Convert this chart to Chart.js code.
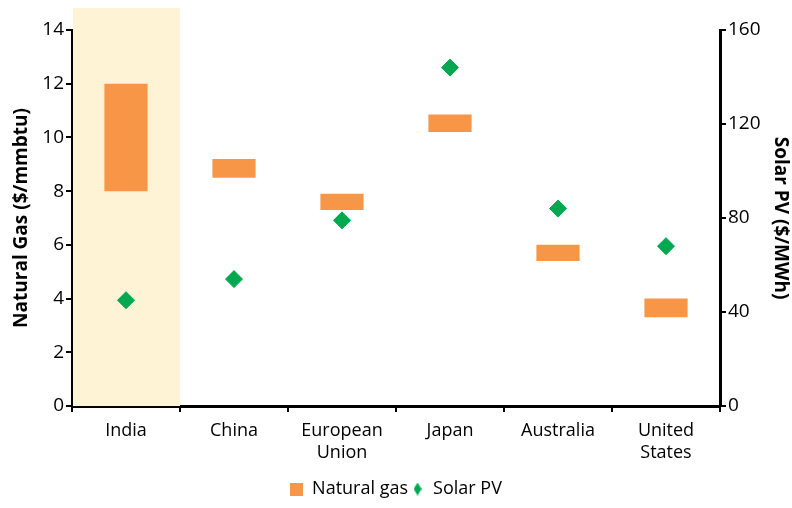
<!DOCTYPE html>
<html>
  <script src="https://cdn.jsdelivr.net/npm/chart.js"></script>
  <body style="margin:0">
    <div style="width:792px;height:508px">
      <canvas id="myChart"></canvas>
    </div>

    <script>
      // categories and values
      const countries = [["India"], ["China"], ["European", "Union"], ["Japan"], ["Australia"], ["United", "States"]];
      const gasLow = [8, 8.5, 7.3, 10.2, 5.4, 3.3];
      const gasHigh = [12, 9.2, 7.9, 10.85, 6.0, 4.0];
      const solarPV = [45, 54, 79, 144, 84, 68];

      const orange = "#F79646";
      const green = "#00A84F";
      const font = "'Open Sans', 'Liberation Sans', sans-serif";

      // small legend markers: square and narrow diamond
      function marker(w, h, draw) {
        const c = document.createElement("canvas");
        c.width = w;
        c.height = h;
        draw(c.getContext("2d"), w, h);
        return c;
      }
      const gasMarker = marker(13, 13, (g, w, h) => {
        g.fillStyle = orange;
        g.fillRect(0, 0, w, h);
      });
      const pvMarker = marker(8, 13, (g, w, h) => {
        g.fillStyle = green;
        g.beginPath();
        g.moveTo(w / 2, 0);
        g.lineTo(w, h / 2);
        g.lineTo(w / 2, h);
        g.lineTo(0, h / 2);
        g.closePath();
        g.fill();
      });

      // pale band behind the India column
      const bandPlugin = {
        id: "band",
        beforeDatasetsDraw(chart) {
          const x = chart.scales.x;
          const area = chart.chartArea;
          const right = (x.getPixelForValue(0) + x.getPixelForValue(1)) / 2;
          const c = chart.ctx;
          c.save();
          c.fillStyle = "#FEF3D5";
          c.fillRect(area.left + 1, 8, right - area.left - 1, area.bottom - 8);
          c.restore();
        }
      };

      const ctx = document.getElementById("myChart");
      new Chart(ctx, {
        type: "bar",
        data: {
          labels: countries,
          datasets: [
            {
              label: "Natural gas",
              data: gasLow.map((v, i) => [v, gasHigh[i]]),
              backgroundColor: orange,
              borderWidth: 0,
              barPercentage: 0.4,
              categoryPercentage: 1,
              yAxisID: "y"
            },
            {
              type: "line",
              label: "Solar PV",
              data: solarPV,
              showLine: false,
              pointStyle: "rectRot",
              pointRadius: 8.5,
              pointBackgroundColor: green,
              pointBorderColor: green,
              backgroundColor: green,
              borderColor: green,
              yAxisID: "y1"
            }
          ]
        },
        options: {
          responsive: true,
          maintainAspectRatio: false,
          animation: false,
          layout: { padding: { top: 30, left: 0, right: 0, bottom: 0 } },
          plugins: {
            tooltip: { enabled: false },
            legend: {
              position: "bottom",
              labels: {
                usePointStyle: true,
                boxWidth: 13,
                boxHeight: 13,
                color: "#000",
                font: { family: font, size: 18 },
                padding: 3,
                generateLabels(chart) {
                  return Chart.defaults.plugins.legend.labels.generateLabels(chart).map(l => {
                    l.pointStyle = l.datasetIndex === 0 ? gasMarker : pvMarker;
                    return l;
                  });
                }
              }
            }
          },
          scales: {
            x: {
              afterFit(s) { s.height = 71; },
              grid: { drawOnChartArea: false, color: "#000", lineWidth: 2, tickLength: 6 },
              border: { color: "#000", width: 3 },
              ticks: { color: "#000", font: { family: font, size: 18, lineHeight: 1.2 }, padding: 8, maxRotation: 0 }
            },
            y: {
              position: "left",
              min: 0,
              max: 14,
              afterFit(s) { s.width = 72; },
              ticks: { stepSize: 2, color: "#000", font: { family: font, size: 19 }, padding: 2 },
              grid: { drawOnChartArea: false, color: "#000", lineWidth: 2, tickLength: 6 },
              border: { color: "#000", width: 3 },
              title: { display: true, text: "Natural Gas ($/mmbtu)", color: "#000", font: { family: font, size: 19, weight: "bold" }, padding: { top: 10, bottom: 2 } }
            },
            y1: {
              position: "right",
              min: 0,
              max: 160,
              afterFit(s) { s.width = 72; },
              ticks: { stepSize: 40, color: "#000", font: { family: font, size: 19 }, padding: 2 },
              grid: { drawOnChartArea: false, color: "#000", lineWidth: 2, tickLength: 6 },
              border: { color: "#000", width: 3 },
              title: { display: true, text: "Solar PV ($/MWh)", color: "#000", font: { family: font, size: 19, weight: "bold" }, padding: { top: 0, bottom: 2 } }
            }
          }
        },
        plugins: [bandPlugin]
      });
    </script>
  </body>
</html>
